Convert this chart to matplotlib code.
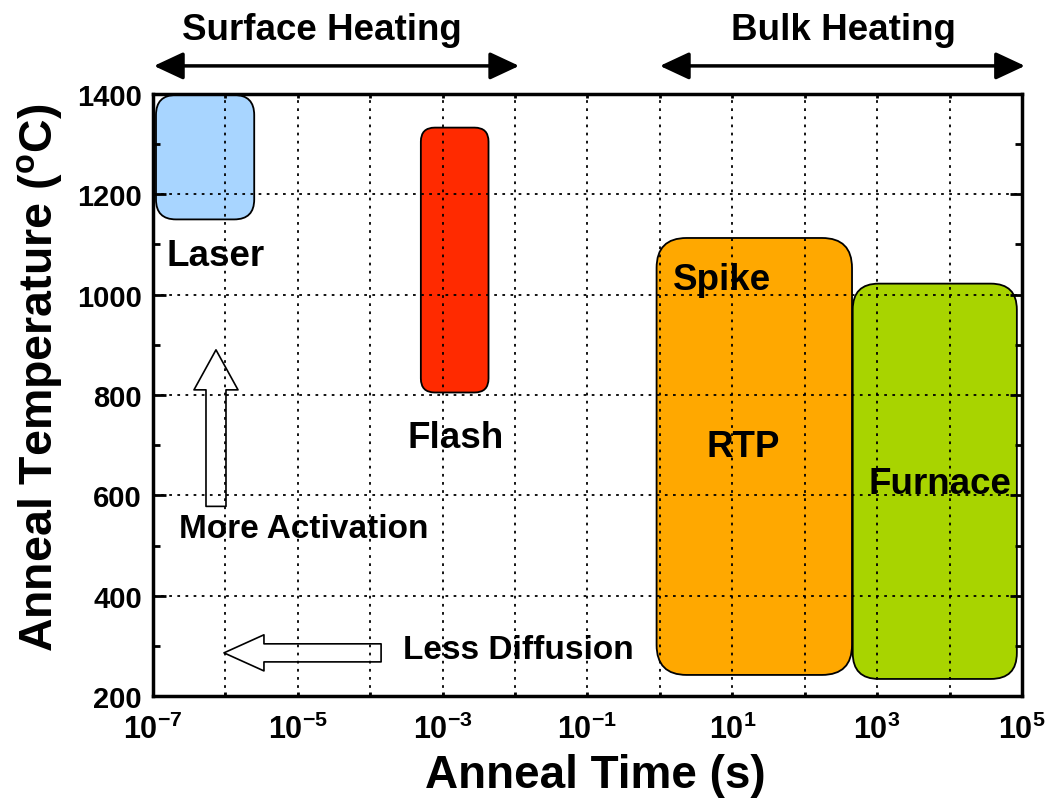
import numpy as np
import matplotlib
matplotlib.use("Agg")
import matplotlib.pyplot as plt
from matplotlib.patches import FancyBboxPatch
from matplotlib.ticker import NullLocator

plt.rcParams["font.family"] = ["Liberation Sans", "DejaVu Sans"]
plt.rcParams["font.weight"] = "bold"
plt.rcParams["axes.labelweight"] = "bold"
plt.rcParams["mathtext.fontset"] = "custom"
plt.rcParams["mathtext.rm"] = "Liberation Sans:bold"
plt.rcParams["mathtext.bf"] = "Liberation Sans:bold"
plt.rcParams["mathtext.it"] = "Liberation Sans:bold:italic"

# anneal regimes: time range (s) and temperature range (C)
regimes = ["Laser", "Flash", "RTP", "Furnace"]
time_lo = [1.1e-7, 5.0e-4, 0.9, 460]
time_hi = [2.5e-6, 4.3e-3, 450, 8.5e4]
temp_lo = [1150, 805, 242, 234]
temp_hi = [1398, 1333, 1113, 1022]
colors = ["#a8d5ff", "#ff2a00", "#ffa800", "#a8d400"]

decades = 10.0 ** np.arange(-7, 6)
xtick_labels = ["$10^{-7}$", "", "$10^{-5}$", "", "$10^{-3}$", "", "$10^{-1}$",
                "", "$10^{1}$", "", "$10^{3}$", "", "$10^{5}$"]
ytick_major = [200, 400, 600, 800, 1000, 1200, 1400]
ytick_minor = [300, 500, 700, 900, 1100, 1300]

fig = plt.figure(figsize=(10.5, 8.03), dpi=100)
ax = fig.add_axes([0.1457, 0.132, 0.8276, 0.7497])
ax.set_xscale("log")
ax.set_xlim(1e-7, 1e5)
ax.set_ylim(200, 1400)

# pixel scale of the axes, used to keep the rounded corners circular on the log axis
bb = ax.get_position()
w_px = bb.width * fig.get_figwidth() * fig.dpi
h_px = bb.height * fig.get_figheight() * fig.dpi
px_decade = w_px / 12
aspect = px_decade / (h_px / 1200)


def add_box(t0, t1, y0, y1, color, r_px):
    (sx0, sy0), (sx1, sy1) = ax.transScale.transform([(t0, y0), (t1, y1)])
    box = FancyBboxPatch((sx0, sy0), sx1 - sx0, sy1 - sy0,
                         boxstyle=f"round,pad=0,rounding_size={r_px / px_decade}",
                         mutation_aspect=aspect,
                         transform=ax.transLimits + ax.transAxes,
                         fc=color, ec="black", lw=1.3, zorder=1)
    ax.add_patch(box)


for i, r in enumerate([20, 14, 30, 26]):
    add_box(time_lo[i], time_hi[i], temp_lo[i], temp_hi[i], colors[i], r)

ax.set_axisbelow(False)
ax.grid(True, which="major", color="black", ls=(0, (1.5, 3)), lw=1.3)

ax.set_xticks(decades)
ax.set_xticklabels(xtick_labels)
ax.xaxis.set_minor_locator(NullLocator())
ax.set_yticks(ytick_major)
ax.set_yticks(ytick_minor, minor=True)
ax.tick_params(which="both", direction="in", top=True, right=True, width=2)
ax.tick_params(axis="y", which="major", length=9, labelsize=21, pad=8)
ax.tick_params(axis="y", which="minor", length=5)
ax.tick_params(axis="x", which="major", length=3, labelsize=22, pad=13)
for s in ax.spines.values():
    s.set_linewidth(2.5)

ax.set_xlabel("Anneal Time (s)", fontsize=33, fontweight="bold")
ax.set_ylabel("Anneal Temperature ($^{\\rm o}$C)", fontsize=33.5, fontweight="bold")
ax.xaxis.label.set_va("center")
ax.yaxis.label.set_va("center")
ax.xaxis.set_label_coords(0.509, -0.131)
ax.yaxis.set_label_coords(-0.130, 0.53)

# region labels
ax.text(10 ** -6.81, 1078, "Laser", fontsize=26.5, va="center")
ax.text(10 ** -3.48, 716, "Flash", fontsize=26.5, va="center")
ax.text(10 ** 0.18, 1030, "Spike", fontsize=26.5, va="center")
ax.text(10 ** 1.15, 698, "RTP", fontsize=26.5, va="center", ha="center")
ax.text(10 ** 3.87, 624, "Furnace", fontsize=26.5, va="center", ha="center")

# heating regime arrows above the plot
head = dict(arrowstyle="<|-|>,head_length=0.9,head_width=0.42", lw=2.5,
            color="black", mutation_scale=20, shrinkA=0, shrinkB=0)
ax.annotate("", xy=(1.03e-7, 1456), xytext=(0.0114, 1456),
            arrowprops=head, annotation_clip=False)
ax.annotate("", xy=(1.0, 1456), xytext=(1.1e5, 1456),
            arrowprops=head, annotation_clip=False)
ax.text(10 ** -4.67, 1528, "Surface Heating", fontsize=26.5,
        ha="center", va="center", clip_on=False)
ax.text(10 ** 2.54, 1528, "Bulk Heating", fontsize=26.5,
        ha="center", va="center", clip_on=False)

# hollow trend arrows
ax.annotate("", xy=(10 ** -6.13, 890), xytext=(10 ** -6.13, 578),
            arrowprops=dict(arrowstyle="simple,head_length=2.88,head_width=3.17,tail_width=1.44",
                            mutation_scale=10, fc="white", ec="black", lw=1.2,
                            shrinkA=0, shrinkB=0), zorder=2)
ax.annotate("", xy=(10 ** -6.02, 286), xytext=(10 ** -3.85, 286),
            arrowprops=dict(arrowstyle="simple,head_length=2.88,head_width=2.6,tail_width=1.3",
                            mutation_scale=10, fc="white", ec="black", lw=1.2,
                            shrinkA=0, shrinkB=0), zorder=2)
ax.text(10 ** -6.64, 534, "More Activation", fontsize=24, va="center")
ax.text(10 ** -3.55, 292, "Less Diffusion", fontsize=24, va="center")

fig.savefig("out.png", dpi=100)
